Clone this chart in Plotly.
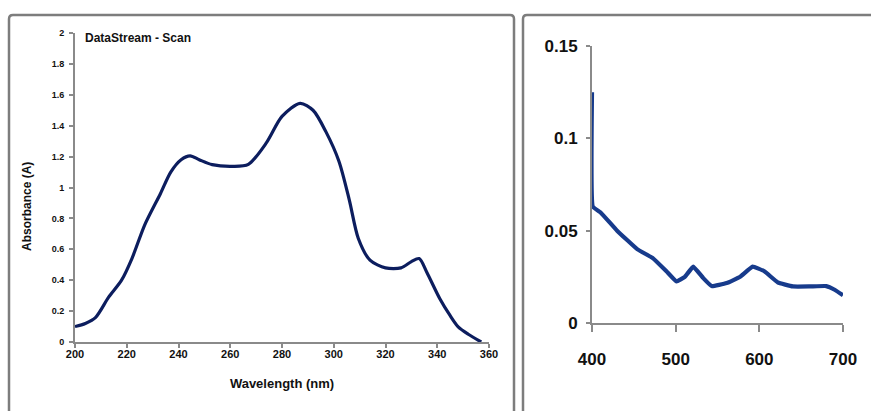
import plotly.graph_objects as go

W, H = 871, 411

# ---- data ----
uv_wavelength = [200, 204, 208, 213, 218, 222, 227, 233, 237, 241, 244.5, 248, 253, 261, 267, 274, 280, 287,
                 292, 297, 302, 306, 309.5, 314, 320, 326, 330, 333, 336, 341, 345, 348, 352, 357]
uv_absorbance = [0.10, 0.12, 0.16, 0.29, 0.40, 0.54, 0.76, 0.96, 1.10, 1.18, 1.205, 1.18, 1.148, 1.137, 1.15,
                 1.29, 1.46, 1.545, 1.50, 1.36, 1.17, 0.92, 0.67, 0.53, 0.48, 0.48, 0.52, 0.54, 0.45, 0.28,
                 0.17, 0.10, 0.05, 0.0]

vis_wavelength = [400, 401, 410, 430, 454, 473, 489, 501, 511, 521, 533, 543, 561, 577, 592, 606, 622, 640,
                  660, 680, 690, 700]
vis_absorbance = [0.125, 0.063, 0.060, 0.050, 0.040, 0.035, 0.028, 0.0225, 0.025, 0.0305, 0.0243, 0.020,
                  0.0216, 0.025, 0.0305, 0.028, 0.022, 0.0198, 0.0198, 0.020, 0.018, 0.015]

left_yticks = [0, 0.2, 0.4, 0.6, 0.8, 1, 1.2, 1.4, 1.6, 1.8, 2]
left_ylabels = ["0", "0.2", "0.4", "0.6", "0.8", "1", "1.2", "1.4", "1.6", "1.8", "2"]
left_xticks = [200, 220, 240, 260, 280, 300, 320, 340, 360]
right_yticks = [0, 0.05, 0.1, 0.15]
right_ylabels = ["0", "0.05", "0.1", "0.15"]
right_xticks = [400, 500, 600, 700]

def px(x):
    return x / W

def py(y):
    return 1 - y / H

FONT = "Liberation Sans"
AXC = "#8a8a8a"

fig = go.Figure()
fig.add_trace(go.Scatter(x=uv_wavelength, y=uv_absorbance, mode="lines",
                         line=dict(color="#0c1d5e", width=3.2, shape="spline", smoothing=0.8),
                         xaxis="x", yaxis="y", showlegend=False, hoverinfo="skip"))
fig.add_trace(go.Scatter(x=vis_wavelength, y=vis_absorbance, mode="lines",
                         line=dict(color="#173b8c", width=4.2, shape="spline", smoothing=0.3),
                         xaxis="x2", yaxis="y2", showlegend=False, hoverinfo="skip"))

common = dict(showgrid=False, zeroline=False, showline=True, linecolor=AXC, linewidth=2,
              ticks="outside", tickcolor=AXC, tickwidth=2, automargin=False)

def bold(lst):
    return ["<b>%s</b>" % s for s in lst]

fig.update_layout(
    width=W, height=H,
    margin=dict(l=0, r=0, t=0, b=0, autoexpand=False),
    paper_bgcolor="white", plot_bgcolor="rgba(0,0,0,0)",
    xaxis=dict(domain=[px(75), px(489)], range=[200, 360], tickvals=left_xticks,
               ticktext=bold([str(v) for v in left_xticks]), ticklen=4, ticklabelstandoff=-3,
               tickfont=dict(family=FONT, size=11, color="#111"), anchor="y",
               title=dict(text="<b>Wavelength (nm)</b>", font=dict(family=FONT, size=13, color="#111"),
                          standoff=20), **common),
    yaxis=dict(domain=[py(342), py(33)], range=[0, 2], tickvals=left_yticks,
               ticktext=bold(left_ylabels), ticklen=4, ticklabelstandoff=3,
               tickfont=dict(family=FONT, size=9, color="#111"), anchor="x", **common),
    xaxis2=dict(domain=[px(592), px(843)], range=[400, 700], tickvals=right_xticks, ticklen=7,
                ticktext=bold([str(v) for v in right_xticks]), ticklabelstandoff=13,
                tickfont=dict(family=FONT, size=17, color="#111"), anchor="y2", **common),
    yaxis2=dict(domain=[py(323), py(46)], range=[0, 0.15], tickvals=right_yticks,
                ticktext=bold(right_ylabels), ticklen=4, ticklabelstandoff=5,
                tickfont=dict(family=FONT, size=17, color="#111"), anchor="x2", **common),
)

# panel frames (rounded grey borders)
def frame(x0, y0, x1, y1, r=4):
    X0, X1 = px(x0), px(x1)
    Y0, Y1 = py(y0), py(y1)
    rx, ry = r / W, r / H
    return (f"M {X0+rx},{Y0} L {X1-rx},{Y0} Q {X1},{Y0} {X1},{Y0-ry} "
            f"L {X1},{Y1+ry} Q {X1},{Y1} {X1-rx},{Y1} L {X0+rx},{Y1} Q {X0},{Y1} {X0},{Y1+ry} "
            f"L {X0},{Y0-ry} Q {X0},{Y0} {X0+rx},{Y0} Z")

fig.add_shape(type="path", xref="paper", yref="paper", path=frame(9, 15, 514, 430),
              line=dict(color="#7d7d7d", width=2.5))
fig.add_shape(type="path", xref="paper", yref="paper", path=frame(523, 15, 900, 430),
              line=dict(color="#7d7d7d", width=2.5))

fig.add_annotation(xref="paper", yref="paper", x=px(83), y=py(38), xanchor="left", yanchor="middle",
                   text="<b>DataStream - Scan</b>", showarrow=False,
                   font=dict(family=FONT, size=12, color="#111"))
fig.add_annotation(xref="paper", yref="paper", x=px(27), y=py(207), xanchor="center", yanchor="middle",
                   text="<b>Absorbance (A)</b>", textangle=-90, showarrow=False,
                   font=dict(family=FONT, size=12, color="#111"))

fig.write_html("out.html")
